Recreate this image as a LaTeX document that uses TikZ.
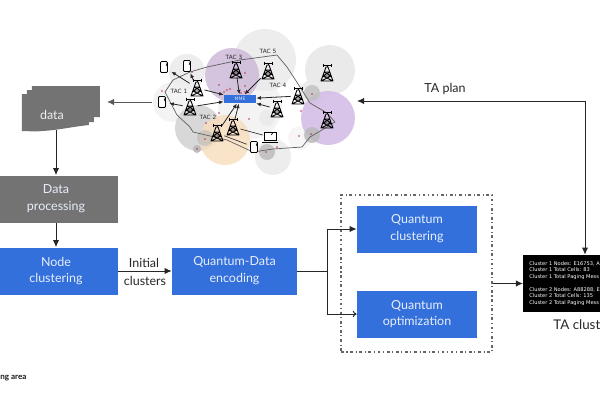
\documentclass[tikz,border=0pt]{standalone}
\usepackage{fontspec}
\setmainfont{Lato}
\newfontfamily\smallfont{DejaVu Sans}
\usetikzlibrary{arrows.meta}
\definecolor{boxblue}{HTML}{3370DB}
\definecolor{boxgrey}{HTML}{737373}
\definecolor{linegrey}{HTML}{5F5F5F}
\definecolor{dotred}{HTML}{C8324B}
\definecolor{lilac}{HTML}{D4BEE6}
\definecolor{lilacdark}{HTML}{CDBAD8}
\definecolor{peach}{HTML}{F8DCBC}
\tikzset{
    link/.style={draw=black!85, line width=0.55pt, -{Latex[length=4pt,width=3.6pt]}},
    openlink/.style={draw=black!85, line width=0.55pt, -{To[length=2.2pt,width=3.6pt]}},
    plainlink/.style={draw=black!85, line width=0.55pt},
    netlink/.style={draw=black!85, line width=0.45pt, -{Latex[length=2.6pt,width=2.2pt]}},
    devlink/.style={draw=black!85, line width=0.35pt},
    stepbox/.style={fill=boxblue, text=white!88!boxblue, align=center, inner sep=0pt,
        minimum width=2.5cm, minimum height=0.94cm, font=\fontsize{7.1}{9.6}\selectfont},
    greybox/.style={stepbox, fill=boxgrey},
    caption/.style={text=black!85, inner sep=0pt, font=\fontsize{7.1}{9}\selectfont},
    taclabel/.style={text=black!85, inner sep=0pt, font=\smallfont\fontsize{3.3}{4}\selectfont},
    anchorbox/.style={minimum size=0.28cm, inner sep=0pt},
    pics/tower/.style={code={
        \draw[black, line width=0.5pt, line join=round]
            (-6,8) -- (-1,-6) -- (1,-6) -- (6,8) -- cycle
            (-4.3,3) -- (4.3,3) (-3,-1) -- (3,-1)
            (-4.3,3) -- (3,-1) (4.3,3) -- (-3,-1) (-6,8) -- (4.3,3) (6,8) -- (-4.3,3);
        \draw[black, line width=0.5pt]
            (-4,-8) -- (4,-8) (-4,-9.5) -- (-4,-6.5) (4,-9.5) -- (4,-6.5) (0,-8) -- (0,-6);
    }},
    pics/phone/.style={code={
        \draw[black, line width=0.45pt, fill=white, rounded corners=0.6pt] (-3.5,-5.5) rectangle (3.5,5.5);
        \draw[black, line width=0.35pt] (2,-1.2) arc (90:-90:1.1);
    }},
    pics/laptop/.style={code={
        \draw[black, line width=0.45pt, fill=white] (-6,-4.5) rectangle (6,3.5);
        \draw[black, line width=0.45pt] (-8,5) -- (8,5);
        \draw[black, line width=0.35pt] (1,-2) arc (90:-90:1.5);
    }}
}
\begin{document}
\begin{tikzpicture}[x=0.02cm, y=-0.02cm]
    \useasboundingbox (0,0) rectangle (600,400);
    \clip (0,0) rectangle (600,400);

    \foreach \x/\y/\r/\c/\o in {
        250/107/32/black!6/0.8, 265/60/31/black!8/0.9, 330/70/25/black!9/0.9,
        187/72/18/black!9/0.8, 173/102/20/black!6/0.8, 273/157/18/black!8/0.9,
        312/93/13/black!8/0.9, 300/138/12/black!4/0.9, 267/118/8/black!8/0.9,
        232/75/27/lilacdark/0.85, 328/118/27/lilac/0.9,
        198/128/23/black!17/0.9, 225/140/25/peach/0.8,
        267/152/8/black!25/0.9, 312/93/8/black!25/0.8, 312/135/8/black!28/0.8,
        205/138/8/black!28/0.6, 197/149/4/black!28/0.9}
        \fill[\c, fill opacity=\o] (\x,\y) circle (\r);

    \draw[linegrey, line width=0.4pt, line join=round]
        (165,92) -- (173,80) -- (190,72) -- (207,67) -- (240,60) -- (277,55)
        -- (287,67) -- (300,87) -- (310,103) -- (327,113) -- (335,122)
        -- (322,130) -- (310,137) -- (302,147) -- (273,149) -- (253,152)
        -- (227,140) -- (193,132) -- (190,127) -- (177,115) -- cycle;

    \foreach \x/\y in {162/91, 192/72, 219/85, 224/92, 227/90, 230/89, 245/73,
        245/86, 245/92, 241/93, 233/74, 219/113, 206/123, 205/139, 197/149,
        249/119, 266/152, 277/147, 299/136, 311/134, 301/111, 312/94, 325/117}
        \fill[dotred] (\x,\y) circle (0.8);

    \node[inner sep=0pt, minimum width=0.64cm, minimum height=0.17cm, fill=boxblue,
        text=white!80!boxblue, font=\smallfont\fontsize{2.6}{3}\selectfont] (mme) at (240,99) {MME};

    \foreach \n/\x/\y in {towa/197/88, towb/190/107, towc/236/70, towd/268/71, towe/298/96,
        towf/277/109, towg/217/133, towh/233/127, towi/327/73, towj/327/120} {
        \node[anchorbox] (\n) at (\x,\y) {};
        \pic at (\n) {tower};
    }
    \foreach \n/\x/\y in {phoa/164/67, phob/187/66, phoc/162/102, phod/254/147} {
        \node[anchorbox] (\n) at (\x,\y) {};
        \pic at (\n) {phone};
    }
    \node[anchorbox] (lap) at (270,137) {};
    \pic at (lap) {laptop};

    \draw[netlink] (towa) -- (mme);
    \draw[netlink] (towb) -- (mme);
    \draw[netlink] (towc) -- (mme);
    \draw[netlink] (towd) -- (mme);
    \draw[netlink] (towe) -- (mme);
    \draw[netlink] (towf) -- (mme);
    \draw[netlink] (towg) -- (mme);
    \draw[netlink] (towh) -- (mme);
    \draw[netlink] (towa) -- (phoa);
    \draw[netlink] (towb) -- (phoc);
    \draw[netlink] (towa) -- (phob);
    \draw[devlink] (towg) -- (phod);
    \draw[devlink] (towh) -- (lap);

    \node[taclabel] (taca) at (179,91) {TAC 1};
    \node[taclabel] (tacb) at (208,117) {TAC 2};
    \node[taclabel] (tacc) at (234,57) {TAC 3};
    \node[taclabel] (tacd) at (278,85) {TAC 4};
    \node[taclabel] (tace) at (268,51) {TAC 5};

    \fill[boxgrey] (32,86) -- (100,86) -- (100,117) -- (94,117) -- (94,122) -- (89,122)
        -- (89,125) .. controls (70,127) and (60,130) .. (42,131)
        .. controls (35,132) and (30,131) .. (22,131)
        -- (22,94) -- (27,94) -- (27,90) -- (32,90) -- cycle;
    \node[text=white!88!boxgrey, inner sep=0pt, font=\fontsize{7.1}{9}\selectfont] (data) at (52,115) {data};
    \coordinate (datafoot) at (56,130);
    \coordinate (datain) at (107,102);
    \coordinate (cloudout) at (152,102);
    \draw[link, draw=black!65] (cloudout) -- (datain);

    \node[greybox, minimum width=2.48cm] (proc) at (56,199) {Data\\processing};
    \node[stepbox, minimum width=2.48cm] (nodeclu) at (56,271) {Node\\clustering};
    \node[stepbox] (qenc) at (234.5,271) {Quantum-Data\\encoding};
    \node[stepbox, minimum width=2.4cm] (qclu) at (417,229) {Quantum\\clustering};
    \node[stepbox, minimum width=2.4cm] (qopt) at (417,314) {Quantum\\optimization};
    \node[draw=black!60, line width=0.6pt, dash pattern=on 1.6pt off 1.5pt on 0.6pt off 1.5pt,
        minimum width=3.02cm, minimum height=3.14cm, inner sep=0pt] (qframe) at (416.5,273.5) {};
    \node[fill=black, text=white, inner xsep=0.12cm, inner ysep=0pt, anchor=west,
        align=left, minimum height=1.14cm, font=\smallfont\fontsize{2.9}{3.7}\selectfont] (taout) at (523,283.5)
        {Cluster 1 Nodes: E16753, A\\Cluster 1 Total Cells: 83\\Cluster 1 Total Paging Mess\\[3.6pt]
         Cluster 2 Nodes: A88288, E\\Cluster 2 Total Cells: 135\\Cluster 2 Total Paging Mess};

    \coordinate (split) at (327,271);
    \coordinate (planturn) at (585,101);
    \coordinate (cloudin) at (357,101);

    \draw[link] (datafoot) -- (proc);
    \draw[link] (proc) -- (nodeclu);
    \draw[link] (nodeclu) -- (qenc);
    \draw[plainlink] (qenc) -- (split);
    \draw[link] (split) |- (qclu);
    \draw[openlink] (split) |- (qopt);
    \draw[link] (qframe.east |- taout.west) -- (taout.west);
    \draw[link, {Latex[length=4pt,width=3.6pt]}-{Latex[length=4pt,width=3.6pt]}]
        (taout.north -| planturn) -- (planturn) -- (cloudin);

    \node[caption] (initlab) at (144,263) {Initial};
    \node[caption] (clulab) at (145,281) {clusters};
    \node[caption] (planlab) at (445,89) {TA plan};
    \node[caption, anchor=west, font=\fontsize{7.6}{10}\selectfont] (talab) at (553,325) {TA clust};
    \node[anchor=west, inner sep=0pt, text=black!90, font=\fontsize{4.6}{6}\selectfont\bfseries] (arealab) at (0,378) {ng area};
\end{tikzpicture}
\end{document}
